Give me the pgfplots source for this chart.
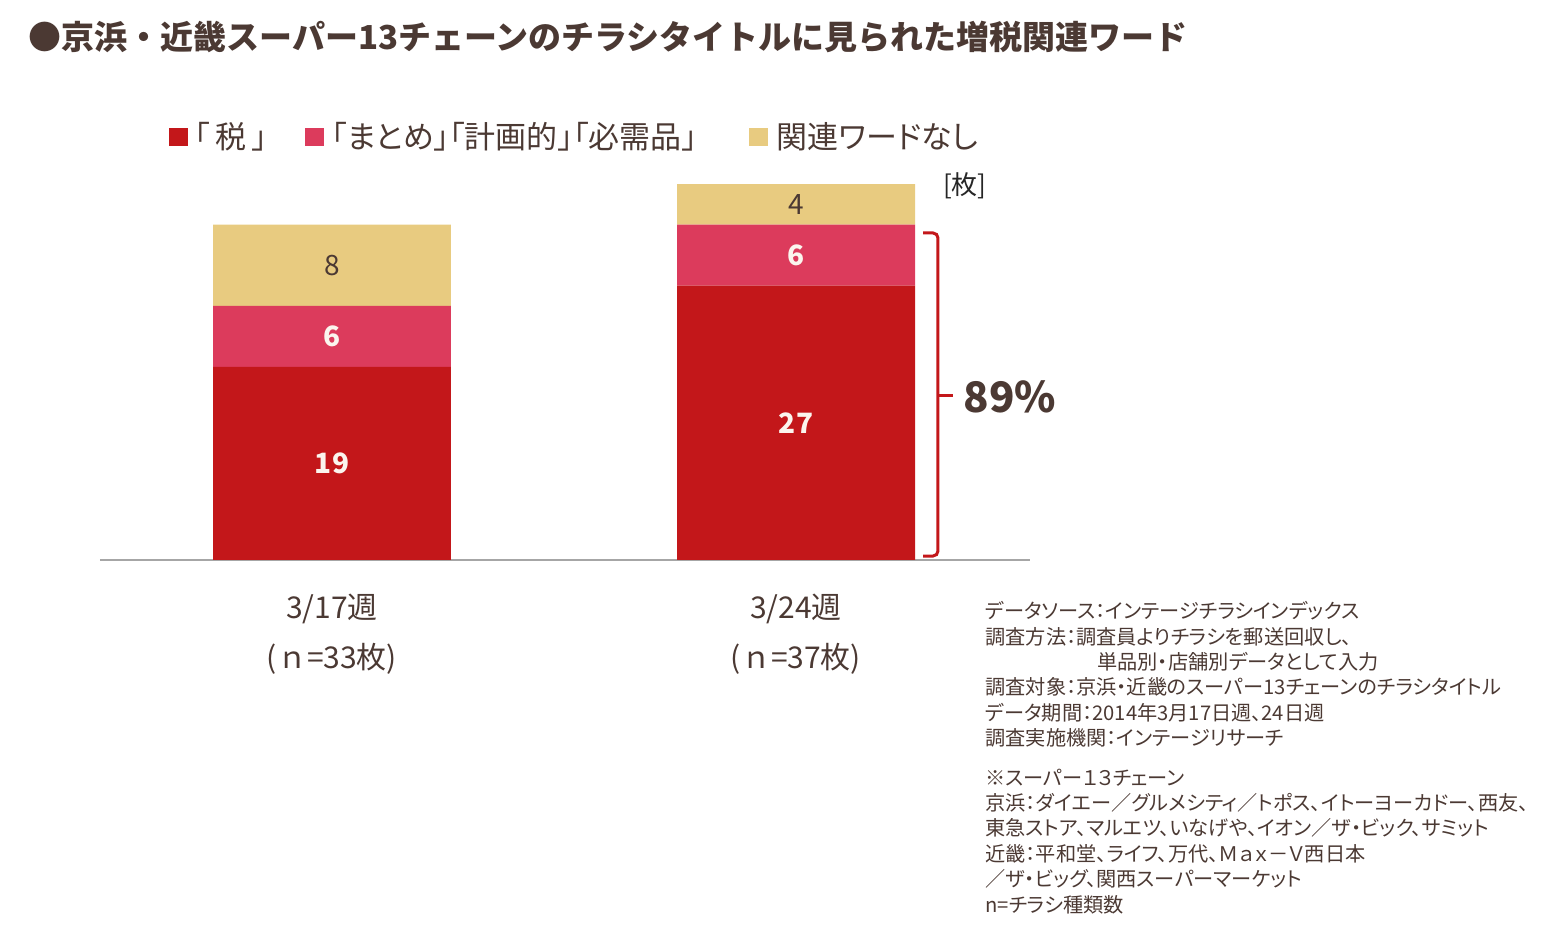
\documentclass[border=0pt]{standalone}
\usepackage{pgfplots}
\pgfplotsset{compat=1.18}
\usepackage{pgfplotstable}
\usepackage{fontspec}
\setmainfont{Noto Sans CJK JP}
\newfontfamily\propfont[RawFeature=+palt]{Noto Sans CJK JP}

\definecolor{taxred}{HTML}{C3171A}
\definecolor{phrasepink}{HTML}{DC3B5C}
\definecolor{nonetan}{HTML}{E8CB80}
\definecolor{inkbrown}{HTML}{4B3933}
\definecolor{axisgray}{HTML}{A6A6A6}
\definecolor{labelwhite}{HTML}{FBF5EE}

% counts of flyer titles per week (x = week index)
\pgfplotstableread{
x y
0 19
1 27
}\taxdata
\pgfplotstableread{
x y
0 6
1 6
}\phrasedata
\pgfplotstableread{
x y
0 8
1 4
}\nonedata

\begin{document}
\begin{tikzpicture}
\useasboundingbox (0pt,0pt) rectangle (773pt,466pt);

% title
\node[anchor=west, inner sep=0pt, text=inkbrown,
      font=\bfseries\fontsize{16.5}{20}\selectfont] at (14pt,447.5pt)
  {●京浜・近畿スーパー13チェーンのチラシタイトルに見られた増税関連ワード};

\begin{axis}[
  at={(50pt,186pt)}, anchor=south west,
  scale only axis, width=465pt, height=203.2pt,
  xmin=-0.5, xmax=1.5043, ymin=0, ymax=40,
  ybar stacked, bar width=0.5129,
  axis x line*=bottom, axis y line=none,
  x axis line style={draw=axisgray, line width=0.8pt},
  xtick={0,1}, ytick=\empty, major tick length=0pt,
  xticklabels={{3/17週\\(ｎ=33枚)},{3/24週\\(ｎ=37枚)}},
  xticklabel style={align=center, text=inkbrown,
    font=\fontsize{15}{25}\selectfont, yshift=-13.5pt},
  clip=false,
  legend columns=3,
  legend image code/.code={\fill[#1] (0pt,-4.6pt) rectangle (9.2pt,4.6pt);},
  legend style={at={(rel axis cs:0.0742,1.0409)}, anchor=west,
    draw=none, fill=none, inner sep=0pt, text=inkbrown,
    font=\propfont\fontsize{15.5}{17}\selectfont,
    nodes={inner xsep=1pt},
    /tikz/column 1/.style={column sep=2.5pt},
    /tikz/column 2/.style={column sep=18pt},
    /tikz/column 3/.style={column sep=3pt},
    /tikz/column 4/.style={column sep=25pt},
    /tikz/column 5/.style={column sep=3.5pt}},
  % value labels sit in the middle of each stacked segment
  vcenter/.style={
    nodes near coords, point meta=explicit symbolic,
    every node near coord/.append style={anchor=center}},
]
\addplot[fill=taxred, draw=none, vcenter,
  every node near coord/.append style={text=labelwhite,
    font=\bfseries\fontsize{14}{16}\selectfont}]
  table[x=x, y=y, meta=y] {\taxdata};
\addlegendentry{「\,税\,」}
\addplot[fill=phrasepink, draw=none, vcenter,
  every node near coord/.append style={text=labelwhite,
    font=\bfseries\fontsize{14}{16}\selectfont}]
  table[x=x, y=y, meta=y] {\phrasedata};
\addlegendentry{「まとめ」「計画的」「必需品」}
\addplot[fill=nonetan, draw=none, vcenter,
  every node near coord/.append style={text=inkbrown,
    font=\fontsize{14}{16}\selectfont}]
  table[x=x, y=y, meta=y] {\nonedata};
\addlegendentry{関連ワードなし}

% unit and share bracket for the second week
\node[anchor=center, inner sep=0pt, text=black!85,
      font=\fontsize{13}{15}\selectfont] at (axis cs:1.364,36.8) {[枚]};
\draw[taxred, line width=1.5pt, rounded corners=2.5pt]
  (axis cs:1.274,32.19) -- (axis cs:1.306,32.19) -- (axis cs:1.306,0.39)
  -- (axis cs:1.274,0.39);
\draw[taxred, line width=1.5pt] (axis cs:1.306,16.24) -- (axis cs:1.338,16.24);
\node[anchor=west, inner sep=0pt, text=inkbrown,
      font=\bfseries\fontsize{21}{24}\selectfont] at (axis cs:1.360,16.04) {89\%};
\end{axis}

% notes
\node[anchor=north west, inner sep=0pt, align=left, text=inkbrown,
      font=\propfont\fontsize{10.1}{12.7}\selectfont] at (492.5pt,165.5pt) {%
データソース：インテージチラシインデックス\\
調査方法：調査員よりチラシを郵送回収し、\\
\hspace*{56pt}単品別・店舗別データとして入力\\
調査対象：京浜・近畿のスーパー13チェーンのチラシタイトル\\
データ期間：2014年3月17日週、24日週\\
調査実施機関：インテージリサーチ\\[7pt]
※スーパー１３チェーン\\
京浜：ダイエー／グルメシティ／トポス、イトーヨーカドー、西友、\\
東急ストア、マルエツ、いなげや、イオン／ザ・ビック、サミット\\
近畿：平和堂、ライフ、万代、Ｍａｘ－Ｖ西日本\\
／ザ・ビッグ、関西スーパーマーケット\\
n=チラシ種類数};
\end{tikzpicture}
\end{document}
